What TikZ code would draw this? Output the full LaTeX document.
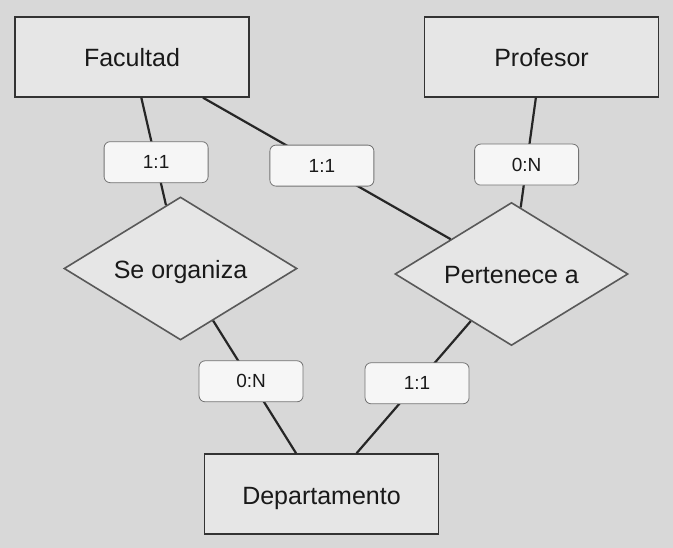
\documentclass[tikz,border=0pt]{standalone}
\usepackage{fontspec}
\setmainfont{Liberation Sans}
\usetikzlibrary{shapes.geometric}
\definecolor{bgGray}{RGB}{216,216,216}
\definecolor{boxFill}{RGB}{230,230,230}
\definecolor{cardFill}{RGB}{246,246,246}

\begin{document}
\begin{tikzpicture}[x=1pt,y=-1pt,
   entity/.style={draw=black!80,fill=boxFill,line width=1.4pt,
      minimum width=234pt,minimum height=80pt,inner sep=0pt,
      text height=20pt,text depth=0pt,
      text=black!90,font=\fontsize{25}{29}\selectfont},
   relation/.style={diamond,aspect=1.63,draw=black!65,fill=boxFill,line width=1.6pt,
      minimum width=233pt,minimum height=143pt,inner sep=0pt,
      text height=20pt,text depth=0pt,
      text=black!90,font=\fontsize{25}{29}\selectfont},
   card/.style={draw=black!55,fill=cardFill,rounded corners=6pt,line width=0.8pt,
      minimum width=104pt,minimum height=41pt,inner sep=0pt,
      text=black!90,font=\fontsize{19}{23}\selectfont},
   link/.style={draw=black!85,line width=2.2pt}]
\fill[bgGray] (0,0) rectangle (673,548);
\useasboundingbox (0,0) rectangle (673,548);

\node[entity] (facultad) at (132,57) {Facultad};
\node[entity] (profesor) at (541.5,57) {Profesor};
\node[entity] (depto) at (321.5,494) {Departamento};
\node[relation] (organiza) at (180.5,268.5) {Se organiza};
\node[relation] (pertenece) at (511.5,274) {Pertenece a};

\path[link] (facultad) -- node[card,pos=0.6] (c1) {1:1} (organiza);
\path[link] (facultad) -- node[card,pos=0.48] (c2) {1:1} (pertenece);
\path[link] (profesor) -- node[card,pos=0.61] (c3) {0:N} (pertenece);
\path[link] (organiza) -- node[card,pos=0.457] (c4) {0:N} (depto);
\path[link] (pertenece) -- node[card,pos=0.47] (c5) {1:1} (depto);
\end{tikzpicture}
\end{document}
